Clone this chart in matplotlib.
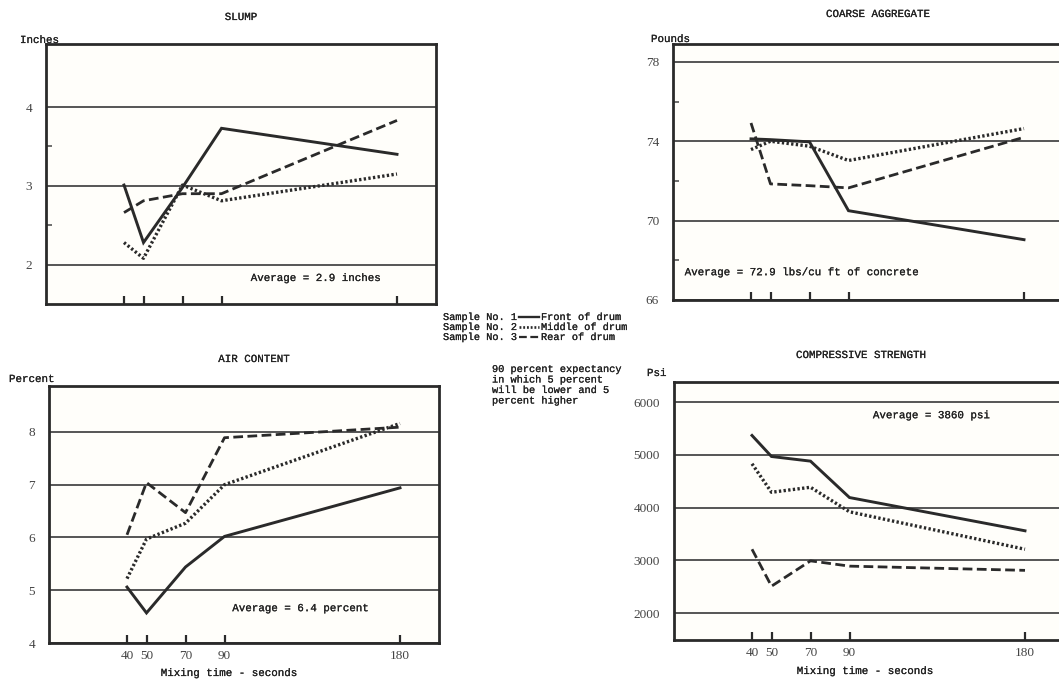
import matplotlib
matplotlib.use("Agg")
from matplotlib import pyplot as plt
from matplotlib.lines import Line2D
from matplotlib import patheffects

plt.rcParams['font.family'] = ['Liberation Mono', 'DejaVu Sans Mono']

mix_time = [40, 50, 70, 90, 180]
tick_labels = ['40', '50', '70', '90', '180']

# sample 1 = front, 2 = middle, 3 = rear of drum
slump_front = [3.01, 2.28, 2.98, 3.73, 3.40]
slump_middle = [2.28, 2.08, 3.01, 2.81, 3.15]
slump_rear = [2.66, 2.81, 2.90, 2.90, 3.83]

coarse_front = [74.12, 74.08, 73.97, 70.5, 69.04]
coarse_middle = [73.58, 74.0, 73.75, 73.03, 74.64]
coarse_rear = [74.92, 71.85, 71.76, 71.65, 74.2]

air_front = [5.06, 4.57, 5.44, 6.02, 6.94]
air_middle = [5.22, 5.97, 6.27, 7.0, 8.16]
air_rear = [6.05, 7.04, 6.47, 7.89, 8.09]

strength_front = [5367, 4968, 4880, 4190, 3560]
strength_middle = [4830, 4290, 4385, 3920, 3210]
strength_rear = [3210, 2510, 2990, 2890, 2810]

sample_names = ['Sample No. 1', 'Sample No. 2', 'Sample No. 3']
sample_labels = ['Front of drum', 'Middle of drum', 'Rear of drum']

INK = '#2a2a2a'
GRID = '#555555'
TXT = '#222222'
thick = [patheffects.withStroke(linewidth=0.15, foreground=TXT)]
styles = [dict(ls='-', lw=2.1),
          dict(ls=(0, (0.7, 0.7)), lw=2.4),
          dict(ls=(0, (3.5, 1.6)), lw=2.0)]

W, H = 1059, 680
fig = plt.figure(figsize=(W / 100, H / 100), dpi=100)
fig.patch.set_facecolor('white')


def px_axes(left, top, width, height):
    return fig.add_axes([left / W, 1 - (top + height) / H, width / W, height / H])


def panel(ax, series, ylim, major, minor, ylabels, show_x):
    ax.set_facecolor('#fffefa')
    for vals, st in zip(series, styles):
        ax.plot(mix_time, vals, color=INK, solid_joinstyle='miter', **st, zorder=3)
    ax.set_xlim(0, 200)
    ax.set_ylim(*ylim)
    for v in major:
        ax.axhline(v, color=GRID, lw=1.4, zorder=1)
    ax.set_yticks(major)
    ax.set_yticklabels(ylabels, family='Liberation Serif', fontsize=9.5, color='#444444')
    ax.set_yticks(minor, minor=True)
    ax.tick_params(axis='y', which='major', length=0, pad=10)
    ax.tick_params(axis='y', which='minor', direction='in', length=4, width=1.2, color=GRID)
    ax.set_xticks(mix_time)
    ax.tick_params(axis='x', direction='in', length=6, width=1.6, color=INK, pad=5)
    if show_x:
        ax.set_xticklabels(tick_labels, family='Liberation Serif', fontsize=9.5, color='#444444')
    else:
        ax.set_xticklabels([])
    for s in ax.spines.values():
        s.set_linewidth(2.0)
        s.set_color(INK)


def avg_text(ax, x, y, s):
    ax.text(x, y, s, fontsize=7.8, color=TXT, va='center', path_effects=thick)


ax1 = px_axes(46, 44, 390, 260)
panel(ax1, [slump_front, slump_middle, slump_rear], (1.5, 4.8), [2, 3, 4], [2.5, 3.5],
      ['2', '3', '4'], False)
avg_text(ax1, 105, 1.83, 'Average = 2.9 inches')

ax2 = px_axes(673, 44, 390, 256)
panel(ax2, [coarse_front, coarse_middle, coarse_rear], (66, 78.9), [66, 70, 74, 78], [68, 72, 76],
      ['66', '70', '74', '78'], False)
avg_text(ax2, 6, 67.4, 'Average = 72.9 lbs/cu ft of concrete')

ax3 = px_axes(49, 386, 390, 257)
panel(ax3, [air_front, air_middle, air_rear], (4, 8.87), [4, 5, 6, 7, 8], [],
      ['4', '5', '6', '7', '8'], True)
avg_text(ax3, 94, 4.66, 'Average = 6.4 percent')

ax4 = px_axes(674, 382, 390, 258)
panel(ax4, [strength_front, strength_middle, strength_rear], (1490, 6380),
      [2000, 3000, 4000, 5000, 6000], [],
      ['2000', '3000', '4000', '5000', '6000'], True)
avg_text(ax4, 102, 5750, 'Average = 3860 psi')


def ftext(x, y, s, **kw):
    kw.setdefault('fontsize', 7.8)
    kw.setdefault('color', TXT)
    fig.text(x / W, 1 - y / H, s, va='center', path_effects=thick, **kw)


ftext(241, 17, 'SLUMP', ha='center')
ftext(878, 14, 'COARSE AGGREGATE', ha='center')
ftext(254, 359, 'AIR CONTENT', ha='center')
ftext(861, 355, 'COMPRESSIVE STRENGTH', ha='center')

ftext(20, 40, 'Inches', ha='left')
ftext(651, 39, 'Pounds', ha='left')
ftext(9, 379, 'Percent', ha='left')
ftext(647, 373, 'Psi', ha='left')

ftext(229, 673, 'Mixing time - seconds', ha='center')
ftext(865, 671, 'Mixing time - seconds', ha='center')

# legend between the panels
leg_y = [317, 327, 337]
for name, lab, st, y in zip(sample_names, sample_labels, styles, leg_y):
    ftext(443, y, name, ha='left', fontsize=7.4)
    fig.add_artist(Line2D([519 / W, 539 / W], [1 - y / H, 1 - y / H], transform=fig.transFigure,
                          color=INK, ls=st['ls'], lw=st['lw'] * 0.8))
    ftext(541, y, lab, ha='left', fontsize=7.4)

note = ['90 percent expectancy', 'in which 5 percent', 'will be lower and 5', 'percent higher']
for i, line in enumerate(note):
    ftext(492, 369 + i * 10.5, line, ha='left', fontsize=7.4)

fig.savefig('out.png', dpi=100, facecolor='white')
